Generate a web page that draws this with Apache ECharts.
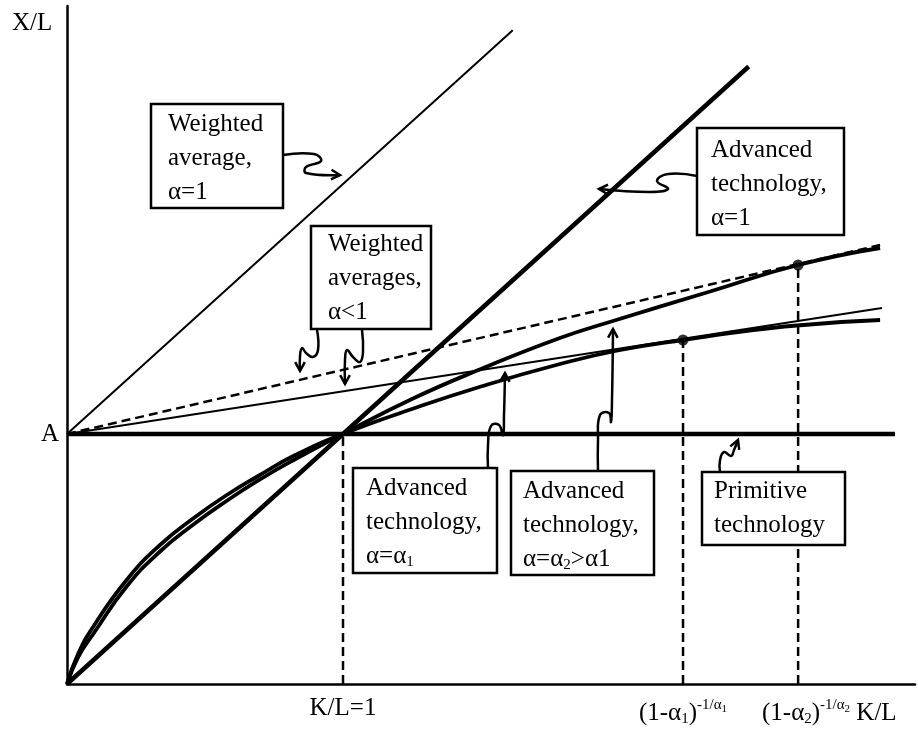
<!DOCTYPE html>
<html>
<head>
<meta charset="utf-8">
<script src="https://cdn.jsdelivr.net/npm/echarts@6/dist/echarts.min.js"></script>
<style>
  html, body { margin: 0; padding: 0; background: #fff; }
  #chart { width: 918px; height: 732px; }
</style>
</head>
<body>
<div id="chart"></div>
<script>
// Output per worker (X/L) against capital per worker (K/L).
// Primitive output level A = 1; the advanced curves pass through K/L = 1, X/L = A.

const primitiveLine = [[0, 1], [3.0, 1]];
const weightedAvgAlpha1 = [[0, 1], [1.615, 2.615]];
const advancedAlpha1 = [[0, 0], [2.47, 2.47]];
const weightedAvgDashed = [[0, 1], [2.946, 1.756]];
const weightedAvgThin = [[0, 1], [2.953, 1.504]];

const advancedAlphaOne = [
  [0, 0], [0.04, 0.12], [0.095, 0.229], [0.216, 0.416], [0.337, 0.556], [0.458, 0.663],
  [0.579, 0.756], [0.699, 0.836], [0.82, 0.912], [1, 1], [1.25, 1.1],
  [1.5, 1.19], [1.786, 1.28], [2.0, 1.335], [2.232, 1.376], [2.6, 1.43], [2.946, 1.456]
];
const advancedAlphaTwo = [
  [0, 0], [0.04, 0.107], [0.095, 0.2], [0.216, 0.39], [0.337, 0.53], [0.458, 0.638],
  [0.579, 0.733], [0.699, 0.818], [0.82, 0.895], [1, 1], [1.25, 1.14],
  [1.5, 1.26], [1.786, 1.384], [1.978, 1.452], [2.33, 1.57], [2.649, 1.676], [2.946, 1.744]
];

// Tangency points and the K/L = 1 switch point
const switchPoint = [1, 1];
const tangencyAlphaOne = [2.232, 1.376];
const tangencyAlphaTwo = [2.649, 1.676];

const FONT_FAMILY = '"Liberation Serif", "Times New Roman", serif';

const chart = echarts.init(document.getElementById('chart'));

function lineSeries(data, width, dashed) {
  return {
    type: 'line', data: data, showSymbol: false, silent: true, animation: false,
    lineStyle: { color: '#000', width: width, type: dashed ? [9, 5] : 'solid' }
  };
}
function curveSeries(data, width) {
  const s = lineSeries(data, width, false);
  s.smooth = 0.5;
  return s;
}
function dropLine(pt) {
  return lineSeries([[pt[0], 0], pt], 2.5, true);
}

const series = [
  lineSeries(primitiveLine, 4.5),
  lineSeries(weightedAvgAlpha1, 2),
  lineSeries(advancedAlpha1, 4.5),
  lineSeries(weightedAvgDashed, 2.5, true),
  lineSeries(weightedAvgThin, 2),
  curveSeries(advancedAlphaOne, 3.8),
  curveSeries(advancedAlphaTwo, 3.8),
  dropLine(switchPoint),
  dropLine(tangencyAlphaOne),
  dropLine(tangencyAlphaTwo),
  {
    type: 'scatter', data: [tangencyAlphaOne, tangencyAlphaTwo], symbolSize: 11,
    itemStyle: { color: '#000' }, silent: true, animation: false
  }
];

// --- text helpers ---
const measureCtx = document.createElement('canvas').getContext('2d');
function textWidth(t, size) {
  measureCtx.font = size + 'px ' + FONT_FAMILY;
  return measureCtx.measureText(t).width;
}

// A run of text pieces with their own size and vertical offset (sub/superscripts)
function mathText(pieces, x, y, align) {
  let total = 0;
  pieces.forEach(function (p) { total += textWidth(p.t, p.size); });
  let cx = align === 'center' ? x - total / 2 : (align === 'right' ? x - total : x);
  return pieces.map(function (p) {
    const el = {
      type: 'text', x: cx, y: y + (p.dy || 0), z: 11,
      style: {
        text: p.t, font: p.size + 'px ' + FONT_FAMILY, fill: '#000',
        align: 'left', verticalAlign: 'middle'
      }
    };
    cx += textWidth(p.t, p.size);
    return el;
  });
}
const N = 25, S = 15, SS = 11;

// --- annotation boxes and squiggly pointers (pixel layout) ---
function box(x, y, w, h, lines, tx, ty) {
  let els = [{
    type: 'rect', shape: { x: x, y: y, width: w, height: h },
    style: { fill: '#fff', stroke: '#000', lineWidth: 2.5 }, z: 10
  }];
  lines.forEach(function (line, i) {
    const pieces = typeof line === 'string' ? [{ t: line, size: N }] : line;
    els = els.concat(mathText(pieces, tx, ty + i * 34, 'left'));
  });
  return els;
}

function arrow(points) {
  const n = points.length;
  const tip = points[n - 1], prev = points[n - 2];
  const ang = Math.atan2(tip[1] - prev[1], tip[0] - prev[0]);
  const L = 10, spread = 0.5;
  const a1 = [tip[0] - L * Math.cos(ang - spread), tip[1] - L * Math.sin(ang - spread)];
  const a2 = [tip[0] - L * Math.cos(ang + spread), tip[1] - L * Math.sin(ang + spread)];
  return [{
    type: 'polyline', shape: { points: points, smooth: 0.45 },
    style: { stroke: '#000', lineWidth: 2.5, fill: null }, z: 9
  }, {
    type: 'polyline', shape: { points: [a1, tip, a2] },
    style: { stroke: '#000', lineWidth: 2.5, fill: null }, z: 9
  }];
}

let graphics = [];
graphics = graphics.concat(
  box(151, 104, 132, 104, ['Weighted', 'average,', 'α=1'], 168, 124),
  box(697, 128, 147, 107, ['Advanced', 'technology,', 'α=1'], 711, 150),
  box(311, 226, 120, 103, ['Weighted', 'averages,', 'α<1'], 328, 244),
  box(353, 468, 144, 105, ['Advanced', 'technology,',
    [{ t: 'α=α', size: N }, { t: '1', size: S, dy: 6 }]], 366, 488),
  box(511, 471, 143, 104, ['Advanced', 'technology,',
    [{ t: 'α=α', size: N }, { t: '2', size: S, dy: 6 }, { t: '>α1', size: N }]], 523, 491),
  box(702, 472, 143, 73, ['Primitive', 'technology'], 714, 491),
  arrow([[283, 155], [314, 154], [321, 161], [306, 167], [306, 173], [340, 175]]),
  arrow([[697, 176], [668, 174], [657, 181], [668, 189], [650, 192], [599, 189]]),
  arrow([[317, 330], [318, 350], [313, 357], [306, 353], [302, 348], [300, 356], [300, 371]]),
  arrow([[362, 330], [363, 352], [360, 362], [353, 357], [347, 350], [345, 360], [345, 384]]),
  arrow([[488, 468], [488, 445], [491, 426], [499, 425], [503, 435], [504, 415], [505, 373]]),
  arrow([[598, 471], [598, 440], [600, 415], [609, 413], [611, 422], [612, 400], [613, 329]]),
  arrow([[720, 472], [720, 460], [724, 452], [731, 456], [734, 450], [738, 440]]),
  mathText([{ t: 'X/L', size: N }], 12, 23, 'left'),
  mathText([{ t: 'A', size: N }], 41, 434, 'left'),
  mathText([{ t: 'K/L=1', size: N }], 343, 708, 'center'),
  mathText([
    { t: '(1-α', size: N }, { t: '1', size: S, dy: 6 }, { t: ')', size: N },
    { t: '-1/α', size: S, dy: -8 }, { t: '1', size: SS, dy: -4 }
  ], 683, 713, 'center'),
  mathText([
    { t: '(1-α', size: N }, { t: '2', size: S, dy: 6 }, { t: ')', size: N },
    { t: '-1/α', size: S, dy: -8 }, { t: '2', size: SS, dy: -4 }, { t: ' K/L', size: N }
  ], 762, 713, 'left')
);

chart.setOption({
  animation: false,
  backgroundColor: '#fff',
  grid: { left: 67, top: 6, width: 848, height: 678 },
  xAxis: {
    type: 'value', min: 0, max: 3.0725,
    axisLine: { show: true, lineStyle: { color: '#000', width: 2.5 } },
    axisTick: { show: false }, axisLabel: { show: false }, splitLine: { show: false }
  },
  yAxis: {
    type: 'value', min: 0, max: 2.712,
    axisLine: { show: true, lineStyle: { color: '#000', width: 2.5 } },
    axisTick: { show: false }, axisLabel: { show: false }, splitLine: { show: false }
  },
  series: series,
  graphic: { elements: graphics }
});
</script>
</body>
</html>
